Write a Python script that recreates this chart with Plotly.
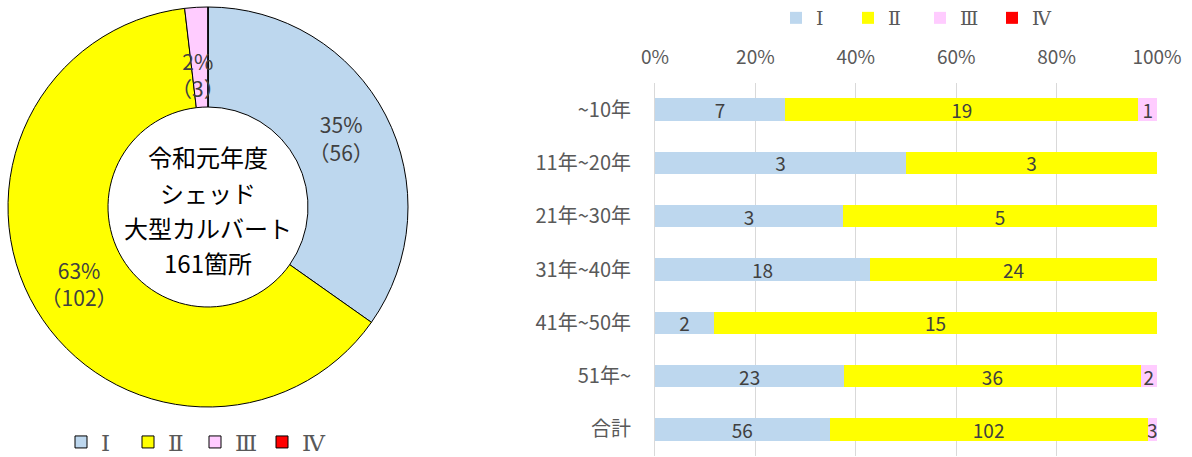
import plotly.graph_objects as go

grades = ["Ⅰ", "Ⅱ", "Ⅲ", "Ⅳ"]
colors = ["#BDD7EE", "#FFFF00", "#FFCCFF", "#FF0000"]

pie_values = [56, 102, 3, 0]
center_lines = ["令和元年度", "シェッド", "大型カルバート", "161箇所"]

categories = ["~10年", "11年~20年", "21年~30年", "31年~40年", "41年~50年", "51年~", "合計"]
s1 = [7, 3, 3, 18, 2, 23, 56]
s2 = [19, 3, 5, 24, 15, 36, 102]
s3 = [1, 0, 0, 0, 0, 2, 3]
s4 = [0, 0, 0, 0, 0, 0, 0]
series = [s1, s2, s3, s4]

xticks = [0, 20, 40, 60, 80, 100]

JP = "Noto Sans CJK JP"
TXT = "#404040"
GRAY = "#595959"

total = sum(pie_values)
# thin slices get their label placed separately in the middle of the ring
pie_text = [f"{v/total:.0%}<br>（{v}）" if v / total > 0.05 else "" for v in pie_values]

fig = go.Figure()

fig.add_trace(go.Pie(
    labels=grades, values=pie_values,
    marker=dict(colors=colors, line=dict(color="#000000", width=1)),
    hole=0.5, sort=False, direction="clockwise", rotation=0,
    domain=dict(x=[8/1192, 408/1192], y=[1-407/457, 1-7/457]),
    text=pie_text, textinfo="text",
    textposition="inside", insidetextorientation="horizontal",
    textfont=dict(family=JP, size=21, color=TXT),
    legend="legend", showlegend=True, hoverinfo="label+value+percent",
))

for name, vals, col in zip(grades, series, colors):
    fig.add_trace(go.Bar(
        y=categories, x=vals, name=name, orientation="h",
        marker=dict(color=col, line=dict(width=0)),
        width=0.42,
        text=[str(v) if v else "" for v in vals],
        texttemplate="%{text}",
        textposition="inside", insidetextanchor="middle", textangle=0,
        textfont=dict(family=JP, size=19, color=TXT),
        constraintext="none",
        legend="legend2", hoverinfo="skip",
    ))

annotations = []
for i, line in enumerate(center_lines):
    annotations.append(dict(
        text=line, x=208/1192, y=1-(157 + 35.3*i)/457, xref="paper", yref="paper",
        showarrow=False, font=dict(family=JP, size=24, color="#000000"),
        xanchor="center", yanchor="middle",
    ))
# label for the thin pink slice (III)
v3 = pie_values[2]
annotations.append(dict(
    text=f"{v3/total:.0%}<br>（{v3}）", x=198/1192, y=1-74/457,
    xref="paper", yref="paper", showarrow=False,
    font=dict(family=JP, size=21, color=TXT), align="center",
    xanchor="center", yanchor="middle",
))

fig.update_layout(
    width=1192, height=457,
    margin=dict(l=0, r=0, t=0, b=0, autoexpand=False),
    paper_bgcolor="white", plot_bgcolor="white",
    barmode="stack", barnorm="percent",
    uniformtext=dict(minsize=19, mode="show"),
    font=dict(family=JP, color=GRAY),
    xaxis=dict(
        domain=[655/1192, 1157/1192], range=[0, 100], side="top",
        tickvals=xticks, ticktext=[f"{v}%" for v in xticks],
        showgrid=True, gridcolor="#D9D9D9", gridwidth=1,
        zeroline=False, showline=False, ticks="", automargin=False,
        tickfont=dict(family=JP, size=19, color=GRAY),
        ticklabelstandoff=14,
    ),
    yaxis=dict(
        domain=[1-456/457, 1-83/457], autorange="reversed",
        showline=True, linecolor="#D9D9D9", linewidth=1,
        showgrid=False, ticks="", automargin=False,
        tickfont=dict(family=JP, size=20, color=GRAY),
        ticklabelstandoff=19,
    ),
    legend=dict(
        orientation="h", x=195/1192, xanchor="center", y=15/457, yanchor="middle",
        font=dict(family="DejaVu Serif", size=23, color=GRAY),
        entrywidth=22, traceorder="normal", bgcolor="rgba(0,0,0,0)",
    ),
    legend2=dict(
        orientation="h", x=920/1192, xanchor="center", y=1-18/457, yanchor="middle",
        font=dict(family="DejaVu Serif", size=19, color=GRAY),
        entrywidth=27, traceorder="normal", bgcolor="rgba(0,0,0,0)",
    ),
    annotations=annotations,
)

fig.write_html(
    "out.html",
    config={"displayModeBar": False},
    post_script="document.body.style.margin='0';document.body.style.padding='0';",
)
